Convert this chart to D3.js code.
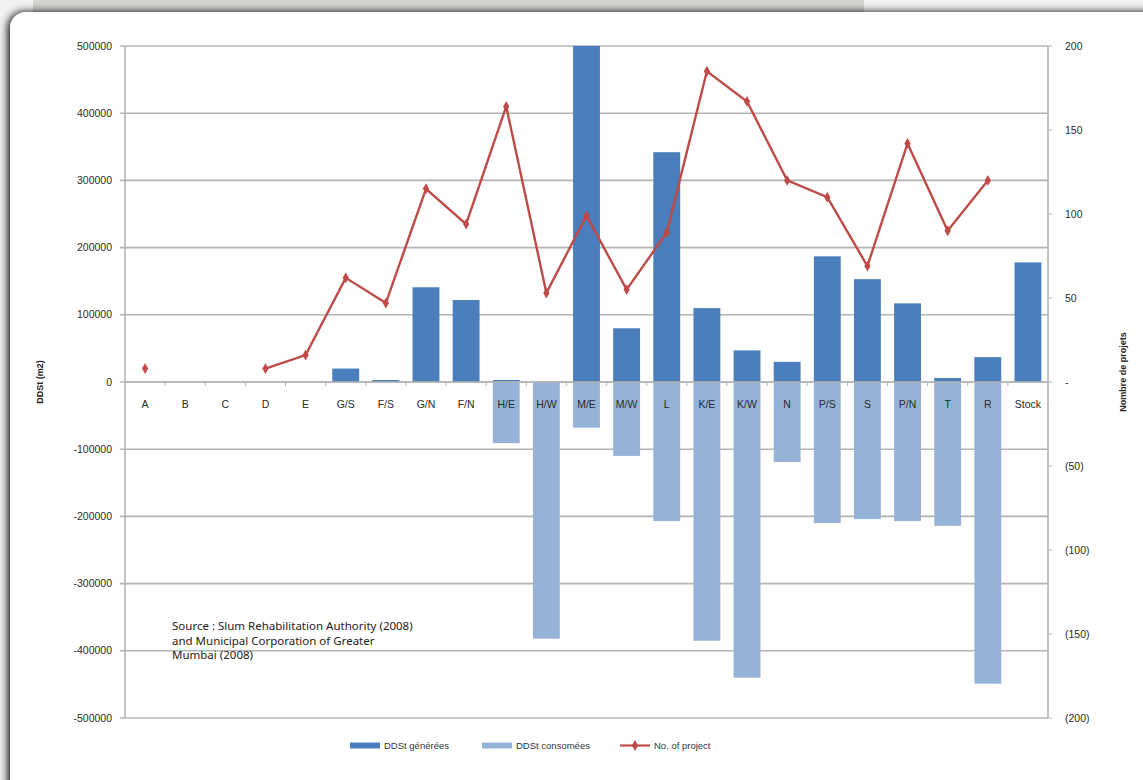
<!DOCTYPE html>
<html>
<head>
<meta charset="utf-8">
<script src="https://cdn.jsdelivr.net/npm/d3@7"></script>
<style>
  body { margin: 0; background: #f2f2f2; }
  svg { display: block; }
</style>
</head>
<body>
<svg id="chart" width="1143" height="780"></svg>
<script>
// Données
const categories = ["A","B","C","D","E","G/S","F/S","G/N","F/N","H/E","H/W","M/E","M/W","L","K/E","K/W","N","P/S","S","P/N","T","R","Stock"];
const generees  = [0,0,0,0,0,20000,3000,141000,122000,3000,0,500000,80000,342000,110000,47000,30000,187000,153000,117000,6000,37000,178000];
const consomees = [0,0,0,0,0,0,0,0,0,-91000,-382000,-68000,-110000,-207000,-385000,-440000,-119000,-210000,-204000,-207000,-214000,-449000,0];
const projets   = [8,null,null,8,16,62,47,115,94,164,53,99,55,89,185,167,120,110,69,142,90,120,null];
const leftTicks = [500000,400000,300000,200000,100000,0,-100000,-200000,-300000,-400000,-500000];
const rightTicks = [200,150,100,50,0,-50,-100,-150,-200];
const seriesNames = ["DDSt générées","DDSt consomées","No. of project"];
const sourceLines = ["Source : Slum Rehabilitation Authority (2008)","and Municipal Corporation of Greater","Mumbai (2008)"];

const svg = d3.select("#chart");
const plot = {left: 125, right: 1048, top: 46, bottom: 718};
const font = "'Liberation Sans', Arial, sans-serif";

// Fond et carte
const defs = svg.append("defs");
const shadow = defs.append("filter").attr("id", "shadow").attr("x", "-5%").attr("y", "-5%").attr("width", "110%").attr("height", "110%");
shadow.append("feGaussianBlur").attr("in", "SourceAlpha").attr("stdDeviation", 4);
shadow.append("feOffset").attr("dx", -2).attr("dy", 0).attr("result", "b");
const merge = shadow.append("feMerge");
merge.append("feMergeNode").attr("in", "b");
merge.append("feMergeNode").attr("in", "SourceGraphic");

svg.append("rect").attr("x", 33).attr("y", 0).attr("width", 831).attr("height", 14).attr("fill", "#d6d4d0");
svg.append("rect")
    .attr("x", 10).attr("y", 12).attr("width", 1160).attr("height", 800)
    .attr("rx", 16).attr("fill", "#ffffff")
    .attr("filter", "url(#shadow)");

// Échelles
const x = d3.scaleBand().domain(categories).range([plot.left, plot.right]).paddingInner(0.33).paddingOuter(0.165);
const xb = d3.scaleBand().domain(categories).range([plot.left, plot.right]);
const yL = d3.scaleLinear().domain([-500000, 500000]).range([plot.bottom, plot.top]);
const yR = d3.scaleLinear().domain([-200, 200]).range([plot.bottom, plot.top]);

// Grille
svg.append("g")
    .selectAll("line")
    .data(leftTicks)
    .join("line")
    .attr("x1", plot.left - 5).attr("x2", plot.right)
    .attr("y1", d => yL(d)).attr("y2", d => yL(d))
    .attr("stroke", "#b4b4b4").attr("stroke-width", 1.6);

// Axes verticaux
svg.append("line").attr("x1", plot.left).attr("x2", plot.left).attr("y1", plot.top).attr("y2", plot.bottom)
    .attr("stroke", "#b4b4b4").attr("stroke-width", 1.6);
svg.append("line").attr("x1", plot.right).attr("x2", plot.right).attr("y1", plot.top).attr("y2", plot.bottom)
    .attr("stroke", "#b4b4b4").attr("stroke-width", 1.6);

// Barres
svg.append("g")
    .selectAll("rect")
    .data(categories.map((c, i) => ({c, v: generees[i]})).filter(d => d.v > 0))
    .join("rect")
    .attr("x", d => x(d.c)).attr("width", x.bandwidth())
    .attr("y", d => yL(d.v)).attr("height", d => yL(0) - yL(d.v))
    .attr("fill", "#4a7ebd");

svg.append("g")
    .selectAll("rect")
    .data(categories.map((c, i) => ({c, v: consomees[i]})).filter(d => d.v < 0))
    .join("rect")
    .attr("x", d => x(d.c)).attr("width", x.bandwidth())
    .attr("y", yL(0)).attr("height", d => yL(d.v) - yL(0))
    .attr("fill", "#95b3d9");

// Axe des catégories
svg.append("line").attr("x1", plot.left).attr("x2", plot.right).attr("y1", yL(0)).attr("y2", yL(0))
    .attr("stroke", "#b4b4b4").attr("stroke-width", 1.6);
svg.append("g")
    .selectAll("line")
    .data(categories)
    .join("line")
    .attr("x1", d => xb(d) + xb.bandwidth()).attr("x2", d => xb(d) + xb.bandwidth())
    .attr("y1", yL(0)).attr("y2", yL(0) + 4)
    .attr("stroke", "#b4b4b4");

svg.append("g")
    .selectAll("text")
    .data(categories)
    .join("text")
    .attr("x", d => xb(d) + xb.bandwidth() / 2)
    .attr("y", yL(0) + 26)
    .attr("text-anchor", "middle")
    .attr("font-family", font).attr("font-size", 10.5)
    .attr("fill", "#2a2a2a")
    .text(d => d);

// Graduations gauche
svg.append("g")
    .selectAll("text")
    .data(leftTicks)
    .join("text")
    .attr("x", 112).attr("y", d => yL(d) + 3.5)
    .attr("text-anchor", "end")
    .attr("font-family", font).attr("font-size", 10.5)
    .attr("fill", "#2a2a2a")
    .text(d => d);

// Graduations droite
svg.append("g")
    .selectAll("line")
    .data(rightTicks)
    .join("line")
    .attr("x1", plot.right).attr("x2", plot.right + 4)
    .attr("y1", d => yR(d)).attr("y2", d => yR(d))
    .attr("stroke", "#b4b4b4");
svg.append("g")
    .selectAll("text")
    .data(rightTicks)
    .join("text")
    .attr("x", plot.right + 17).attr("y", d => yR(d) + 3.5)
    .attr("font-family", font).attr("font-size", 10.5)
    .attr("fill", "#2a2a2a")
    .text(d => d === 0 ? "-" : d < 0 ? `(${-d})` : d);

// Titres des axes
svg.append("text")
    .attr("transform", `translate(43,${yL(0)}) rotate(-90)`)
    .attr("text-anchor", "middle")
    .attr("font-family", font).attr("font-size", 9).attr("font-weight", "bold")
    .attr("fill", "#222")
    .text("DDSt (m2)");
svg.append("text")
    .attr("transform", `translate(1126,${yL(0) - 10}) rotate(-90)`)
    .attr("text-anchor", "middle")
    .attr("font-family", font).attr("font-size", 9).attr("font-weight", "bold")
    .attr("fill", "#222")
    .text("Nombre de projets");

// Courbe des projets
const lineColor = "#be4b48";
const pts = categories.map((c, i) => ({c, v: projets[i]}));
const line = d3.line()
    .defined(d => d.v !== null)
    .x(d => xb(d.c) + xb.bandwidth() / 2)
    .y(d => yR(d.v));
svg.append("path")
    .datum(pts)
    .attr("d", line)
    .attr("fill", "none")
    .attr("stroke", lineColor).attr("stroke-width", 2.4);
const diamond = d3.symbol().type(d3.symbolDiamond).size(34);
svg.append("g")
    .selectAll("path")
    .data(pts.filter(d => d.v !== null))
    .join("path")
    .attr("transform", d => `translate(${xb(d.c) + xb.bandwidth() / 2},${yR(d.v)})`)
    .attr("d", diamond)
    .attr("fill", lineColor);

// Source
svg.append("g")
    .selectAll("text")
    .data(sourceLines)
    .join("text")
    .attr("x", 172).attr("y", (d, i) => 630 + i * 14.5)
    .attr("font-family", "'Noto Sans', sans-serif").attr("font-size", 11.5)
    .attr("fill", "#222")
    .text(d => d);

// Légende
const legend = svg.append("g").attr("font-family", font).attr("font-size", 9.5).attr("fill", "#333");
const legendX = [350, 482, 620];
legend.append("rect").attr("x", legendX[0]).attr("y", 742.5).attr("width", 30).attr("height", 6).attr("fill", "#4a7ebd");
legend.append("rect").attr("x", legendX[1]).attr("y", 742.5).attr("width", 30).attr("height", 6).attr("fill", "#95b3d9");
legend.append("line").attr("x1", legendX[2]).attr("x2", legendX[2] + 30).attr("y1", 745.5).attr("y2", 745.5)
    .attr("stroke", lineColor).attr("stroke-width", 2.2);
legend.append("path").attr("transform", `translate(${legendX[2] + 15},745.5)`).attr("d", diamond).attr("fill", lineColor);
legend.selectAll("text")
    .data(seriesNames)
    .join("text")
    .attr("x", (d, i) => legendX[i] + 34).attr("y", 749)
    .text(d => d);
</script>
</body>
</html>
